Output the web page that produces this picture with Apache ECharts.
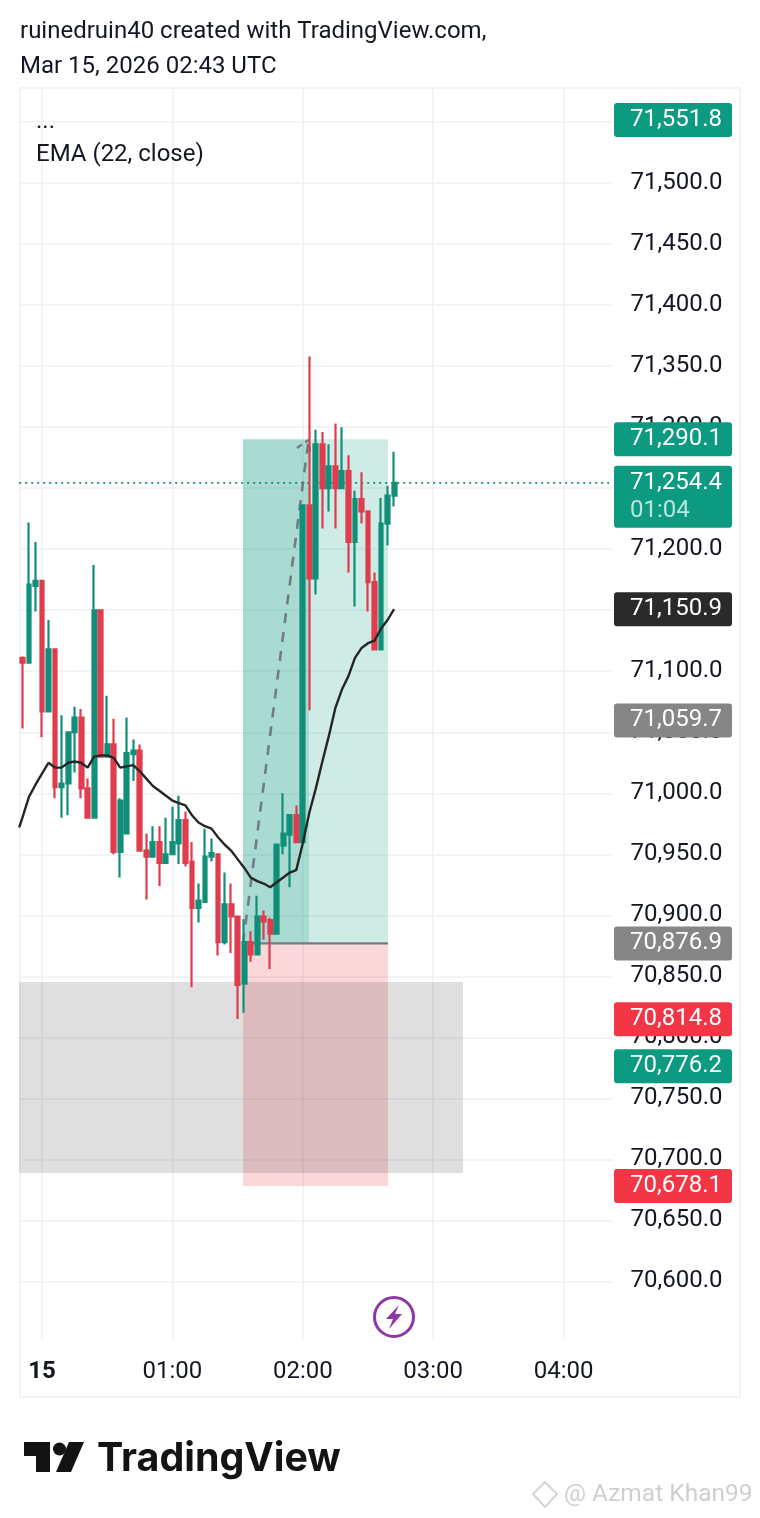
<!DOCTYPE html>
<html><head><meta charset="utf-8">
<script src="https://cdn.jsdelivr.net/npm/echarts@6/dist/echarts.min.js"></script>
<style>html,body{margin:0;padding:0;background:#fff}#c{width:760px;height:1518px}</style>
</head><body><div id="c"></div>
<script>
// [open, close, low, high]
const candles = [
[71111,71107,71053,71112],[71107,71171,71107,71222],[71170,71174,71149,71206],[71174,71067,71046,71174],
[71067,71118,71067,71142],[71118,71005,70996,71118],[71005,71008,70980,71064],[71008,71050,70982,71050],
[71050,71062,71017,71071],[71062,71004,70996,71069],[71004,70980,70980,71012],[70980,71150,70980,71187],
[71150,71030,71030,71150],[71030,71040,71030,71080],[71040,70952,70950,71061],[70952,70994,70931,70996],
[70967,71033,70967,71062],[71032,71035,71010,71044],[71035,70953,70953,71040],[70953,70948,70913,70967],
[70948,70960,70948,70973],[70960,70943,70924,70973],[70943,70950,70943,70980],[70950,70960,70950,70989],
[70959,70978,70942,70998],[70978,70943,70940,70985],[70944,70906,70841,70960],[70906,70912,70894,70926],
[70911,70948,70911,70971],[70948,70951,70944,70963],[70950,70878,70867,70950],[70878,70909,70876,70935],
[70909,70899,70869,70926],[70899,70843,70815,70899],[70844,70878,70820,70897],[70878,70868,70862,70887],
[70868,70899,70868,70916],[70899,70895,70880,70904],[70896,70885,70856,70898],[70885,70958,70885,70958],
[70957,70967,70950,71000],[70966,70982,70923,70982],[70982,70960,70960,70990],[70960,71236,70960,71236],
[71236,71176,71068,71358],[71176,71286,71163,71298],[71286,71250,71217,71296],[71250,71268,71231,71286],
[71268,71250,71217,71303],[71250,71264,71250,71300],[71264,71206,71181,71277],[71206,71241,71153,71248],
[71241,71231,71221,71263],[71231,71173,71149,71231],[71173,71118,71118,71181],[71118,71221,71118,71242],
[71221,71244,71203,71252],[71244,71254.4,71235,71280]
];
const ema = [70980,70997,71007,71016,71025,71021,71021,71025,71026,71025,71021,71030,71031,71031,71029,71021,
71022,71023,71018,71012,71006,71002,70998,70994,70992,70990,70982,70976,70973,70971,70964,70958,70953,70946,
70939,70931,70928,70926,70923,70927,70931,70935,70937,70959,70984,71004,71026,71047,71070,71085,71096,71111,
71119,71123,71125,71135,71142,71150.9];
const emaLead = [-0.5, 70972];
const categories = [];
for (let i = 0; i < 91; i++) {
  const m = (i - 3) * 3, t = (m + 1440) % 1440;
  categories.push(String(Math.floor(t / 60)).padStart(2, '0') + ':' + String(t % 60).padStart(2, '0'));
}
// shaded zones: x in candle-slot units, y in price
const zoneX0 = [33.83, 43.95, 33.83, -0.5];
const zoneX1 = [43.95, 56.07, 56.07, 67.57];
const zoneY0 = [71290.1, 71290.1, 70876.9, 70845.3];
const zoneY1 = [70876.9, 70876.9, 70678.1, 70688.7];
const zoneColors = ['rgba(8,153,129,0.35)', 'rgba(8,153,129,0.2)', 'rgba(242,54,69,0.2)', 'rgba(0,0,0,0.125)'];
const entryLine = [[33.83, 70876.9], [56.07, 70876.9]];
const lastPriceLine = [[-0.5, 71254.4], [90.5, 71254.4]];
const arrowShaft = [[33.83, 70876.9], [43.88, 71289.5]];
const arrowBarb = [[42.1, 71283], [43.88, 71289.5], [44.1, 71277]];
// price tags on the right scale
const tagPrices = [71551.8, 71290.1, 71254.4, 71150.9, 71059.7, 70876.9, 70814.8, 70776.2, 70678.1];
const tagTexts = ['71,551.8', '71,290.1', '71,254.4', '71,150.9', '71,059.7', '70,876.9', '70,814.8', '70,776.2', '70,678.1'];
const tagSubs = ['', '', '01:04', '', '', '', '', '', ''];
const tagColors = ['#0c9a80', '#0c9a80', '#0c9a80', '#2a2a2a', '#868686', '#868686', '#f23645', '#0c9a80', '#f23645'];

const FONT = 'Roboto';
const GRID = '#eff0f3';
const chart = echarts.init(document.getElementById('c'), null, {renderer: 'canvas'});
chart.setOption({
  animation: false,
  backgroundColor: '#fff',
  textStyle: {fontFamily: FONT},
  grid: [
    {left: 19.18, width: 593.32, top: 122.2, height: 1220.1, containLabel: false},
    {left: 19.18, width: 593.32, top: 88, height: 1252, containLabel: false}
  ],
  xAxis: [
    {type: 'category', gridIndex: 0, data: categories, show: false},
    {type: 'value', gridIndex: 0, min: -0.5, max: 90.5, show: false},
    {type: 'category', gridIndex: 1, data: categories, position: 'bottom',
     axisLine: {show: false}, axisTick: {show: false},
     splitLine: {show: true, alignWithLabel: true, interval: (i) => i % 20 === 3, lineStyle: {color: GRID, width: 1.5}},
     axisLabel: {
       interval: (i) => i % 20 === 3, margin: 20, color: '#131722', fontSize: 24, fontFamily: FONT,
       formatter: (v) => v === '00:00' ? '{b|15}' : v,
       rich: {b: {fontWeight: 700, fontSize: 24, fontFamily: FONT, color: '#131722'}}
     }}
  ],
  yAxis: [
    {type: 'value', gridIndex: 0, min: 70550, max: 71550, interval: 50, position: 'right',
     axisLine: {show: false}, axisTick: {show: false},
     splitLine: {show: true, showMinLine: false, lineStyle: {color: GRID, width: 1.5}},
     axisLabel: {show: true, showMinLabel: false, margin: 18, color: '#131722', fontSize: 24, fontFamily: FONT, align: 'left',
       formatter: (v) => v.toLocaleString('en-US', {minimumFractionDigits: 1, maximumFractionDigits: 1})}},
    {type: 'value', gridIndex: 1, min: 0, max: 1, show: false}
  ],
  series: [
    {type: 'custom', xAxisIndex: 1, yAxisIndex: 0, z: 1, silent: true,
     data: zoneX0.map((x, i) => [x, zoneY0[i], zoneX1[i], zoneY1[i], i]),
     encode: {x: [0, 2], y: [1, 3]},
     renderItem: (p, api) => {
       const a = api.coord([api.value(0), api.value(1)]), b = api.coord([api.value(2), api.value(3)]);
       return {type: 'rect', shape: {x: a[0], y: a[1], width: b[0] - a[0], height: b[1] - a[1]},
               style: {fill: zoneColors[api.value(4)]}};
     }},
    {type: 'line', xAxisIndex: 1, yAxisIndex: 0, z: 2, data: entryLine, showSymbol: false, symbol: 'none',
     lineStyle: {color: '#787b86', width: 2.2}},
    {type: 'line', xAxisIndex: 1, yAxisIndex: 0, z: 2, data: lastPriceLine, showSymbol: false, symbol: 'none',
     lineStyle: {color: '#0c8f7a', width: 1.6, type: [2, 4]}},
    {type: 'line', xAxisIndex: 1, yAxisIndex: 0, z: 2, data: arrowShaft, showSymbol: false, symbol: 'none',
     lineStyle: {color: 'rgba(105,107,117,0.85)', width: 2.6, type: [10, 9]}},
    {type: 'line', xAxisIndex: 1, yAxisIndex: 0, z: 2, data: arrowBarb, showSymbol: false, symbol: 'none',
     lineStyle: {color: 'rgba(105,107,117,0.85)', width: 2.4, type: [6, 4]}},
    {type: 'candlestick', xAxisIndex: 0, yAxisIndex: 0, z: 3, barWidth: 4.4, data: candles,
     itemStyle: {color: '#118f78', color0: '#e03c4e', borderColor: '#118f78', borderColor0: '#e03c4e', borderWidth: 2.2}},
    {type: 'line', xAxisIndex: 1, yAxisIndex: 0, z: 4, data: [emaLead].concat(ema.map((v, i) => [i, v])), showSymbol: false, symbol: 'none',
     lineStyle: {color: '#262626', width: 2.4}},
    {type: 'custom', xAxisIndex: 1, yAxisIndex: 0, z: 5, silent: true, clip: false,
     data: tagPrices.map((v, i) => [0, v, i]),
     encode: {x: 0, y: 1},
     renderItem: (p, api) => {
       const i = api.value(2), y = api.coord([0, api.value(1)])[1], sub = tagSubs[i];
       const children = [
         {type: 'rect', shape: {x: 614, y: y - 17, width: 118, height: sub ? 62 : 34, r: 3},
          style: {fill: tagColors[i]}},
         {type: 'text', style: {x: 630, y: y, text: tagTexts[i], fill: '#fff', font: '24px ' + FONT, verticalAlign: 'middle'}}
       ];
       if (sub) children.push({type: 'text', style: {x: 630, y: y + 28, text: sub, fill: '#b9e6dc', font: '24px ' + FONT, verticalAlign: 'middle'}});
       return {type: 'group', children};
     }}
  ],
  graphic: [
    {type: 'rect', z: 0, silent: true, shape: {x: 20, y: 88, width: 720, height: 1309},
     style: {fill: 'none', stroke: GRID, lineWidth: 1.5}},
    {type: 'text', z: 10, style: {x: 20, y: 32, text: 'ruinedruin40 created with TradingView.com,', fill: '#131722', font: '24px ' + FONT, verticalAlign: 'middle'}},
    {type: 'text', z: 10, style: {x: 20, y: 67, text: 'Mar 15, 2026 02:43 UTC', fill: '#131722', font: '24px ' + FONT, verticalAlign: 'middle'}},
    {type: 'text', z: 10, style: {x: 36, y: 122, text: '...', fill: '#131722', font: '24px ' + FONT, verticalAlign: 'middle'}},
    {type: 'text', z: 10, style: {x: 36, y: 155, text: 'EMA (22, close)', fill: '#131722', font: '24px ' + FONT, verticalAlign: 'middle'}},
    {type: 'circle', z: 10, shape: {cx: 394, cy: 1317, r: 19.5}, style: {fill: 'none', stroke: '#8e35a8', lineWidth: 3}},
    {type: 'polygon', z: 10, shape: {points: [[399, 1305], [386, 1319], [393, 1319], [389, 1329], [402, 1314], [395, 1314]]}, style: {fill: '#8e35a8'}},
    {type: 'polygon', z: 10, shape: {points: [[24, 1442], [50, 1442], [50, 1472], [36, 1472], [36, 1456], [24, 1456]]}, style: {fill: '#131313'}},
    {type: 'circle', z: 10, shape: {cx: 59.5, cy: 1449, r: 6.5}, style: {fill: '#131313'}},
    {type: 'polygon', z: 10, shape: {points: [[69, 1442], [84, 1442], [71, 1472], [56, 1472]]}, style: {fill: '#131313'}},
    {type: 'text', z: 10, style: {x: 97, y: 1459, text: 'TradingView', fill: '#131313', font: '700 39.4px Inter', verticalAlign: 'middle'}},
    {type: 'polygon', z: 10, shape: {points: [[545, 1482], [557, 1494], [545, 1507], [533, 1494]]}, style: {fill: 'none', stroke: '#d4d4d4', lineWidth: 2}},
    {type: 'text', z: 10, style: {x: 564, y: 1495, text: '@ Azmat Khan99', fill: '#cfcfcf', font: '24.5px ' + FONT, verticalAlign: 'middle'}}
  ]
});
</script></body></html>
